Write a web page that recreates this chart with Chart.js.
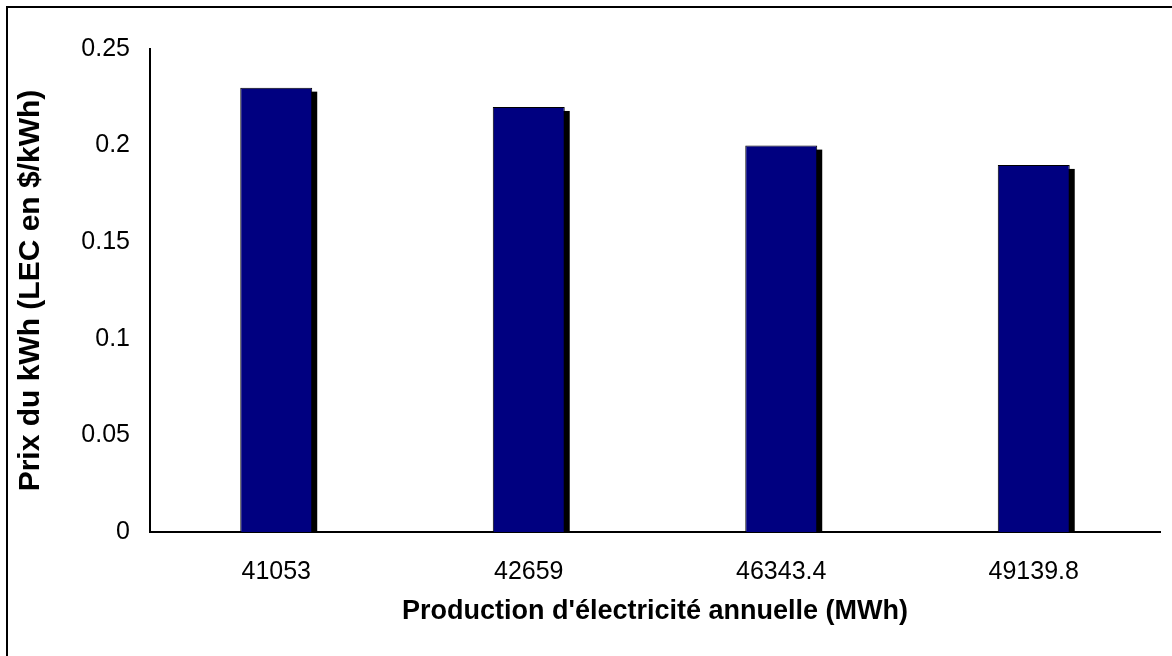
<!DOCTYPE html>
<html>
<head>
<meta charset="utf-8">
<script src="https://cdn.jsdelivr.net/npm/chart.js@4/dist/chart.umd.min.js"></script>
<style>
html,body{margin:0;padding:0;background:#fff;}
#wrap{width:1172px;height:656px;position:relative;}
</style>
</head>
<body>
<div id="wrap"><canvas id="c" width="1172" height="656"></canvas></div>
<script>
const categories = ["41053", "42659", "46343.4", "49139.8"];
const prices = [0.23, 0.22, 0.20, 0.19];
const yTicks = [0, 0.05, 0.1, 0.15, 0.2, 0.25];
const xTitle = "Production d'électricité annuelle (MWh)";
const yTitle = "Prix du kWh (LEC en $/kWh)";

const FONT = "'Liberation Sans', Arial, sans-serif";

const bgPlugin = {
  id: 'bg',
  beforeDraw(chart) {
    const ctx = chart.ctx;
    ctx.save();
    ctx.fillStyle = '#fff';
    ctx.fillRect(0, 0, chart.width, chart.height);
    ctx.strokeStyle = '#000';
    ctx.lineWidth = 2;
    ctx.strokeRect(7, 7, chart.width + 20, chart.height + 20);
    ctx.restore();
  }
};

const shadowPlugin = {
  id: 'barShadow',
  beforeDatasetsDraw(chart) {
    const ctx = chart.ctx;
    ctx.save();
    ctx.fillStyle = '#000';
    chart.getDatasetMeta(0).data.forEach(el => {
      const p = el.getProps(['x', 'y', 'base', 'width'], true);
      ctx.fillRect(p.x - p.width / 2 + 5, p.y + 4, p.width, p.base - p.y - 4);
    });
    ctx.restore();
  }
};

new Chart(document.getElementById('c'), {
  type: 'bar',
  data: {
    labels: categories,
    datasets: [{
      data: prices,
      backgroundColor: '#000080',
      borderColor: '#000000',
      borderWidth: 1,
      categoryPercentage: 1,
      barPercentage: 0.285
    }]
  },
  options: {
    responsive: false,
    animation: false,
    devicePixelRatio: 1,
    layout: { padding: { left: 0, right: 12, top: 49, bottom: 0 } },
    plugins: { legend: { display: false }, tooltip: { enabled: false } },
    scales: {
      x: {
        grid: { display: false, drawTicks: false },
        border: { display: true, color: '#000', width: 2 },
        ticks: { color: '#000', font: { family: FONT, size: 25 }, padding: 25, maxRotation: 0 },
        title: { display: true, text: xTitle, color: '#000',
                 font: { family: FONT, size: 27, weight: 'bold' }, padding: { top: 0, bottom: 28 } },
        afterFit(scale) { scale.height = 124; }
      },
      y: {
        min: 0, max: 0.25,
        afterBuildTicks(scale) { scale.ticks = yTicks.map(v => ({ value: v })); },
        grid: { display: false, drawTicks: false },
        border: { display: true, color: '#000', width: 2 },
        ticks: { color: '#000', font: { family: FONT, size: 25 }, padding: 20,
                 callback: v => String(v) },
        title: { display: true, text: yTitle, color: '#000',
                 font: { family: FONT, size: 30, weight: 'bold' }, padding: { top: 13, bottom: 0 } },
        afterFit(scale) { scale.width = 150; }
      }
    }
  },
  plugins: [bgPlugin, shadowPlugin]
});
</script>
</body>
</html>
